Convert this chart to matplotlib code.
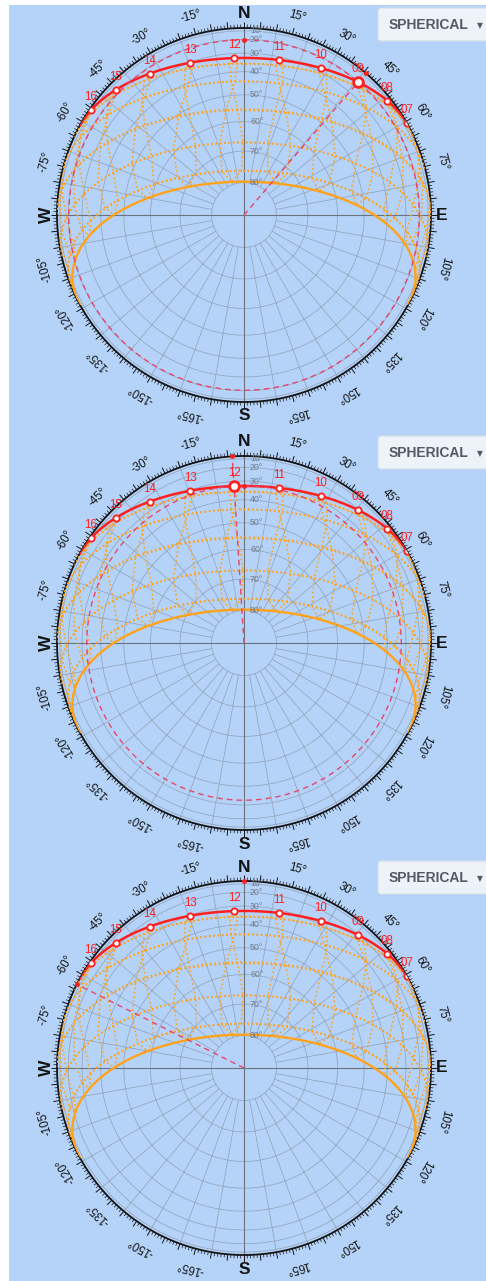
import numpy as np, matplotlib
matplotlib.use("Agg"); import matplotlib.pyplot as plt
from matplotlib.patches import Rectangle, FancyBboxPatch

BG="#b5d3f9";RED="#ff1f1f";ORANGE="#ffa21c";PINK="#e8456b";GRID="#8a98ab";INK="#141414"
plt.rcParams.update({"font.family":["Liberation Sans","DejaVu Sans"]})

# site / sun data
LAT=-33.7
NOON_BASE=11.753                      # clock time of mean solar noon
MONTH_DECL=[-20.1,-10.9,0.3,11.8,20.2,23.44,20.5,12.0,0.8,-10.8,-19.9,-23.44]
MONTH_EOT=[-11.2,-13.8,-7.2,1.1,3.5,-1.6,-6.3,-3.2,6.9,15.4,14.0,1.8]
HOUR_LINES=list(range(5,20))
TODAY_DECL=23.44;TODAY_EOT=-1.6
SOLSTICE_DECL=-23.44;SOLSTICE_EOT=1.8
HOUR_MARKS=[7,8,9,10,11,12,13,14,15,16]
PANEL_TIME=[9.0,12.0,16.9]
AZ_LABELS=[a for a in range(-165,180,15) if a not in (0,90,-90)]
ALT_RINGS=[10,20,30,40,50,60,70,80]
CARDINALS=[("N",0,0),("E",90,0),("S",180,0),("W",270,90)]

W,H=486,1281;R=187;CX=244;PANEL_CY=[215,643,1068]

def sunpos(decl,t,eot):
    h=np.radians(15*(np.asarray(t,float)-(NOON_BASE-eot/60)))
    p,d=np.radians(LAT),np.radians(decl)
    alt=np.arcsin(np.sin(p)*np.sin(d)+np.cos(p)*np.cos(d)*np.cos(h))
    az=np.arctan2(np.sin(h),np.cos(h)*np.sin(p)-np.tan(d)*np.cos(p))+np.pi
    return az,alt
def proj(az,alt):
    r=np.cos(alt);r=np.where(alt<0,np.nan,r);return az,r

fig=plt.figure(figsize=(W/100,H/100),dpi=100,facecolor=BG)
fig.patches.append(Rectangle((0,0),9/W,1,transform=fig.transFigure,fc="white",ec="none"))
fig.patches.append(Rectangle((0,1-5/H),1,5/H,transform=fig.transFigure,fc="white",ec="none"))

tday=np.linspace(0,24,1441)
DOT=dict(color=ORANGE,lw=1.2,ls=(0,(1,1.6)))
for i,cy in enumerate(PANEL_CY):
    ax=fig.add_axes([(CX-R)/W,(H-cy-R)/H,2*R/W,2*R/H],projection="polar")
    ax.set_theta_zero_location("N");ax.set_theta_direction(-1);ax.set_rlim(0,1);ax.axis("off")
    th=np.linspace(0,2*np.pi,721)
    # grid
    for a in ALT_RINGS:
        ax.plot(th,np.full_like(th,np.cos(np.radians(a))),color=GRID,lw=0.55,alpha=0.8)
    rad=np.radians([a for a in range(0,360,10) if a%90])
    ax.vlines(rad,np.cos(np.radians(80)),1,colors=GRID,lw=0.55,alpha=0.8)
    ax.vlines(np.radians([0,90,180,270]),0,1,colors="#6c727b",lw=0.8)
    for a in ALT_RINGS:
        ax.annotate(f"{a}°",(0,np.cos(np.radians(a))),xytext=(6,0),textcoords="offset pixels",
                    ha="left",va="center",fontsize=6.3,color="#737b86")
    # outer ring + ticks
    ax.plot(th,np.ones_like(th),color=INK,lw=1.3,clip_on=False)
    deg=np.arange(360);major=deg%5==0
    ax.vlines(np.radians(deg[~major]),1,1+3.5/R,colors=INK,lw=0.5,clip_on=False)
    ax.vlines(np.radians(deg[major]),1,1+6.5/R,colors=INK,lw=0.7,clip_on=False)
    for a in AZ_LABELS:
        ax.text(np.radians(a),1+19/R,f"{a}°",rotation=-a,rotation_mode="anchor",ha="center",va="center",
                fontsize=8.3,color=INK,clip_on=False)
    for s,a,rot in CARDINALS:
        ax.text(np.radians(a),1+(14 if a in (0,180) else 11)/R,s,rotation=rot,ha="center",va="center",
                fontsize=12.5,fontweight="bold",color=INK,clip_on=False)
    # monthly day paths (dotted)
    for d,e in zip(MONTH_DECL,MONTH_EOT):
        ax.plot(*proj(*sunpos(d,tday,e)),**DOT)
    # hour lines (analemma segments)
    for hr in HOUR_LINES:
        az,alt=sunpos(np.array(MONTH_DECL+MONTH_DECL[:1]),hr,np.array(MONTH_EOT+MONTH_EOT[:1]))
        ax.plot(*proj(az,alt),**DOT)
    ax.plot(*proj(*sunpos(SOLSTICE_DECL,tday,SOLSTICE_EOT)),color=ORANGE,lw=1.7)
    # today's path
    ax.plot(*proj(*sunpos(TODAY_DECL,tday,TODAY_EOT)),color=RED,lw=1.8)
    # current sun
    saz,salt=sunpos(TODAY_DECL,PANEL_TIME[i],TODAY_EOT)
    ax.plot([saz,saz],[0,1],color=PINK,lw=1,ls=(0,(4,3)))
    if salt>0:
        ax.plot(th,np.full_like(th,np.cos(salt)),color=PINK,lw=1,ls=(0,(4,3)))
    ax.plot([saz,0],[1,np.cos(max(salt,0))],"o",color=RED,ms=2.5,ls="none",clip_on=False)
    haz,halt=sunpos(TODAY_DECL,np.array(HOUR_MARKS,float),TODAY_EOT)
    ax.plot(haz,np.cos(halt),"o",mfc="white",mec=RED,ms=4.5,mew=1.3,ls="none",zorder=5)
    for h,a,al in zip(HOUR_MARKS,haz,halt):
        ax.annotate(f"{h:02d}",(a,np.cos(al)),xytext=(0,13),textcoords="offset pixels",ha="center",
                    va="center",fontsize=8.3,color=RED,zorder=6)
    if salt>0:
        ax.plot([saz],[np.cos(salt)],"o",mfc="white",mec=RED,ms=7,mew=2,zorder=7)

# view-mode buttons
ov=fig.add_axes([0,0,1,1],zorder=10);ov.set_xlim(0,W);ov.set_ylim(H,0);ov.axis("off")
for cy in PANEL_CY:
    top=cy-207
    ov.add_patch(FancyBboxPatch((378,top),120,33,boxstyle="round,pad=0,rounding_size=3",
                                fc="#eef3f9",ec="#d3dde9",lw=0.8))
    ov.text(389,top+17,"SPHERICAL",ha="left",va="center",fontsize=10,fontweight="bold",color="#545a62")
    ov.text(480,top+18,"▼",ha="center",va="center",fontsize=5.5,color="#545a62",family="DejaVu Sans")

fig.savefig("out.png",dpi=100,facecolor=BG)
